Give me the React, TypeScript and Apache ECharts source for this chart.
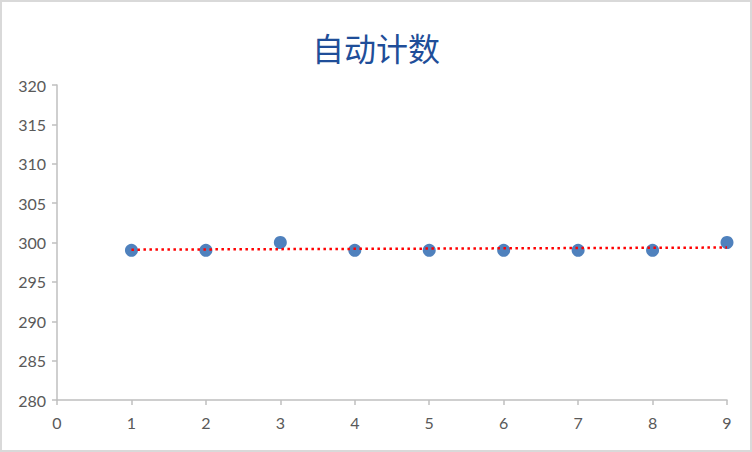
import { useEffect, useRef } from "react";
import * as echarts from "echarts";

// measured counts, one per run
const runs = [1, 2, 3, 4, 5, 6, 7, 8, 9];
const counts = [299, 299, 300, 299, 299, 299, 299, 299, 300];
// linear trendline end points
const trendX = [1, 9];
const trendY = [299.09, 299.36];

const TITLE = "自动计数";

export default function App() {
  const chartRef = useRef<HTMLDivElement>(null);

  useEffect(() => {
    document.body.style.margin = "0";
    if (!chartRef.current) return;

    const chart = echarts.init(chartRef.current, undefined, { renderer: "svg" });

    const labelStyle = {
      color: "#595959",
      fontSize: 16,
      fontFamily: "Lato, 'Noto Sans', sans-serif",
    };
    const axisLineStyle = { color: "#bfbfbf", width: 1.5 };

    chart.setOption({
      animation: false,
      title: {
        text: TITLE,
        left: "center",
        top: 24,
        textStyle: {
          color: "#1f4e99",
          fontSize: 32,
          fontWeight: "normal",
          fontFamily: "'Noto Sans CJK SC', sans-serif",
        },
      },
      grid: {
        left: 55,
        right: 23,
        top: 83,
        bottom: 50,
      },
      xAxis: {
        type: "value",
        min: 0,
        max: 9,
        interval: 1,
        axisLine: { show: true, lineStyle: axisLineStyle },
        axisTick: { show: true, length: 5, lineStyle: axisLineStyle },
        axisLabel: { ...labelStyle, margin: 14 },
        splitLine: { show: false },
      },
      yAxis: {
        type: "value",
        min: 280,
        max: 320,
        interval: 5,
        axisLine: { show: true, lineStyle: axisLineStyle },
        axisTick: { show: true, length: 5, lineStyle: axisLineStyle },
        axisLabel: { ...labelStyle, margin: 11 },
        splitLine: { show: false },
      },
      series: [
        {
          name: "trend",
          type: "line",
          data: trendX.map((x, i) => [x, trendY[i]]),
          symbol: "none",
          lineStyle: { color: "#ff0000", width: 2.5, type: [2.5, 3.5] },
          z: 3,
        },
        {
          name: "counts",
          type: "scatter",
          data: runs.map((x, i) => [x, counts[i]]),
          symbol: "circle",
          symbolSize: 13,
          itemStyle: { color: "#4f81bd", opacity: 1 },
          z: 2,
        },
      ],
    });

    return () => {
      chart.dispose();
    };
  }, []);

  return (
    <div
      style={{
        width: 752,
        height: 452,
        boxSizing: "border-box",
        border: "2px solid #d9d9d9",
        background: "#ffffff",
      }}
    >
      <div ref={chartRef} style={{ width: 748, height: 448 }} />
    </div>
  );
}
